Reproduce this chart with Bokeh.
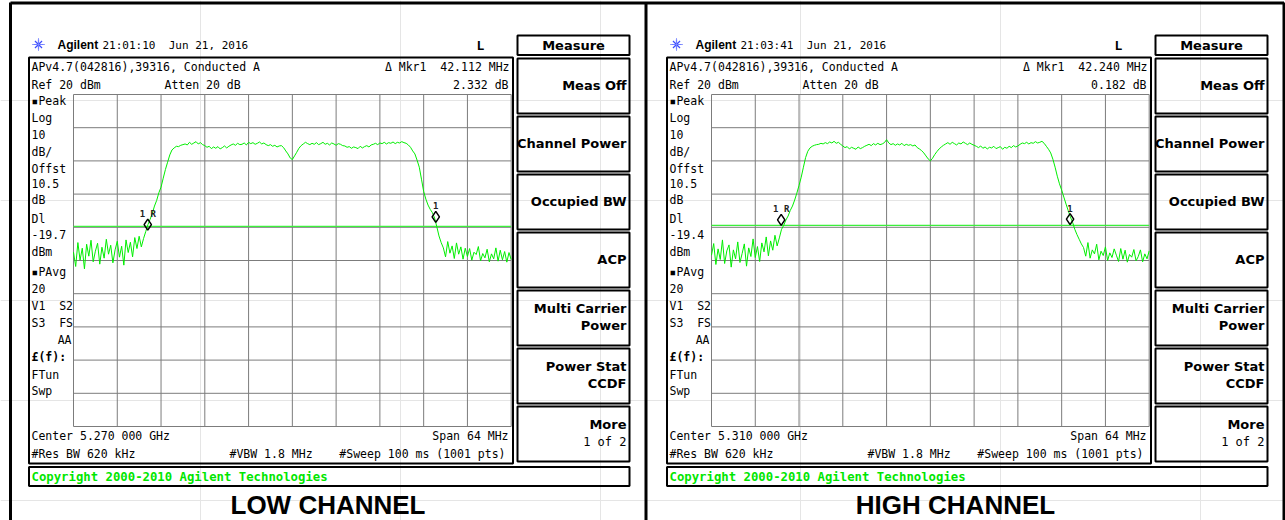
import numpy as np
from bokeh.plotting import figure
from bokeh.models import Range1d
from bokeh.core.properties import value
from bokeh.embed import file_html
from bokeh.resources import INLINE

# ---------------------------------------------------------------- data
channel_titles = ["LOW CHANNEL", "HIGH CHANNEL"]
sweep_times = ["21:01:10", "21:03:41"]
sweep_date = "Jun 21, 2016"
center_ghz = [5.270, 5.310]
span_mhz = 64
n_div = 10
ref_dbm = 20
db_per_div = 10
atten_db = 20
offset_db = 10.5
display_line_dbm = [-19.7, -19.4]
res_bw_khz = 620
vbw_mhz = 1.8
sweep_ms = 100
sweep_pts = 1001
pavg_count = 20

# reference marker (1R) and delta marker (1)
ref_marker_mhz = [5248.86, 5288.19]
ref_marker_dbm = [-19.2, -17.74]
delta_mhz = [42.112, 42.240]
delta_db = [2.332, 0.182]

# trace samples, one every 0.32 MHz across the 64 MHz span (201 points)
trace_step_mhz = 0.32
low_trace_dbm = [
    -27.5, -31.8, -24.6, -29.9, -26.3, -32.5, -25.1, -28.7, -23.9, -30.4,
    -27.2, -24.8, -31.1, -26.0, -29.3, -23.6, -28.1, -25.4, -30.7, -26.8,
    -24.2, -29.0, -25.7, -31.4, -23.8, -27.6, -24.5, -28.9, -23.1, -26.4, -22.7, -25.9,
    -23.4, -21.3, -19.2, -17.6, -15.8, -13.6, -11.9, -9.6, -7.9, -5.2, -2.6, -0.4,
    1.8, 3.3, 3.9, 4.4, 4.3, 4.7, 4.9, 5.1, 4.8, 5.6, 5.0, 5.4, 5.8, 5.1, 5.5, 4.9,
    4.6, 4.1, 4.4, 3.7, 4.2, 3.8, 4.3, 3.6, 4.0, 4.5, 3.9, 4.4,
    4.8, 5.1, 4.7, 5.3, 4.9, 5.0, 5.4, 4.8, 5.6, 5.2, 5.5, 5.0, 5.3, 5.7, 5.1, 5.4, 4.9,
    4.6, 4.9, 4.4, 4.7, 4.2, 4.5, 4.6, 4.0,
    3.0, 2.1, 0.9, 0.4, 1.5, 2.6, 3.8,
    4.6, 5.1, 5.6, 5.2, 4.9, 5.3, 5.0, 5.5, 4.9, 5.2, 5.6, 5.0, 5.3, 4.8, 5.4, 5.1, 4.7, 5.2, 5.0, 4.6,
    4.5, 4.1, 4.3, 3.8, 4.2, 4.0, 3.7, 4.4, 3.9, 4.3, 4.6, 4.2, 4.8,
    5.0, 5.3, 4.9, 5.4, 5.2, 5.6, 5.1, 5.5, 5.3, 5.7, 5.2, 5.6, 5.4, 5.8, 5.5, 5.3,
    4.8, 4.1, 3.0, 2.1, 0.2, -1.9, -5.5, -9.2, -11.5, -13.3, -14.6, -15.6, -17.2, -19.8, -22.6, -24.6,
    -26.2, -28.9, -24.3, -27.8, -25.6, -29.4, -24.7, -28.1, -25.9, -29.6, -26.3, -28.8,
    -26.4, -29.9, -27.5, -28.2, -25.8, -30.1, -27.9, -29.2, -26.6, -30.4, -28.0, -29.5,
    -26.2, -30.2, -26.9, -29.8, -27.3, -30.5, -27.6, -29.7,
]
high_trace_dbm = [
    -28.4, -24.9, -31.2, -26.5, -29.7, -23.8, -30.9, -27.1, -25.3, -32.0,
    -26.8, -29.5, -24.4, -30.6, -27.9, -25.0, -31.7, -26.2, -28.8, -23.5,
    -29.1, -25.8, -30.3, -24.7, -27.4, -22.9, -28.6, -24.1, -26.9, -22.4, -25.6, -23.2,
    -20.6, -19.4, -17.8, -16.6, -14.9, -13.6, -11.8, -9.7, -7.4, -4.9, -1.9, 1.0,
    2.9, 3.9, 4.4, 4.7, 4.9, 5.0, 5.3, 5.1, 5.5, 5.2, 5.7, 5.4, 5.9, 5.3, 5.6, 5.0,
    4.5, 4.0, 4.3, 3.6, 4.1, 3.8, 3.5, 4.2, 3.7, 4.0, 4.4,
    4.7, 5.0, 4.6, 5.2, 4.8, 5.3, 4.9, 5.1, 5.5, 6.4,
    5.4, 4.9, 5.2, 4.7, 5.1, 4.8, 5.3, 4.6, 5.0, 4.7, 4.9, 4.5, 4.8,
    4.0, 3.6, 3.1, 2.4, 1.5,
    0.6, 0.0, 0.8,
    1.9, 2.8, 3.6, 4.2, 4.7, 5.1,
    5.5, 5.0, 5.6, 5.2, 4.8, 5.4, 5.1, 5.7, 5.3, 4.9, 5.4, 5.0, 4.7,
    4.4, 4.0, 4.5, 3.8, 4.2, 3.6, 4.1, 3.9, 4.4, 3.7, 4.0, 4.3, 3.5, 4.1, 3.8, 4.4, 4.0, 4.6, 4.2, 4.5,
    5.0, 5.4, 5.2, 5.6, 5.1, 5.5, 5.3, 5.8, 5.4, 5.6, 5.9, 5.3,
    4.4, 3.5, 2.4, 0.5, -1.9, -4.6, -6.9, -8.8, -10.9, -13.0, -15.0, -16.9, -18.5, -20.6, -22.2, -23.6, -25.0,
    -26.1, -28.7, -24.6, -29.3, -26.8, -28.0, -25.1, -29.8, -27.2, -28.5, -25.9, -30.0,
    -27.7, -29.1, -26.5, -28.4, -30.3, -26.4, -29.6, -26.9, -30.5, -28.2, -29.0, -26.7,
    -30.1, -28.8, -26.8, -30.4, -28.0, -29.5, -27.1,
]
traces = [low_trace_dbm, high_trace_dbm]
assert len(low_trace_dbm) == 201 and len(high_trace_dbm) == 201

softkey_title = "Measure"
softkeys = [["Meas Off"], ["Channel Power"], ["Occupied BW"], ["ACP"],
            ["Multi Carrier", "Power"], ["Power Stat", "CCDF"], ["More", "1 of 2"]]
copyright_text = "Copyright 2000-2010 Agilent Technologies"
source_line = "APv4.7(042816),39316, Conducted A"

# ---------------------------------------------------------------- layout
W, H = 1285, 520
MONO = "DejaVu Sans Mono"
SANS = "Liberation Sans"
KEYFONT = "DejaVu Sans"
NB = "\u00a0"  # keeps runs of spaces intact in SVG text
GRID_L, GRID_R, GRID_T, GRID_B = 73.0, 510.7, 94.0, 426.0
PANEL_DX = [0, 638]
TRACE_GREEN = "#00ee00"
DL_GREEN = "#3cf03c"
GRID_GRAY = "#7c7c7c"

p = figure(width=W, height=H, x_range=Range1d(0, W), y_range=Range1d(H, 0),
           output_backend="svg", toolbar_location=None,
           x_axis_location=None, y_axis_location=None,
           min_border=0, min_border_left=0, min_border_right=0,
           min_border_top=0, min_border_bottom=0,
           outline_line_color=None, background_fill_color="white",
           border_fill_color="white")

mhz_per_px = span_mhz / (GRID_R - GRID_L)
db_per_px = n_div * db_per_div / (GRID_B - GRID_T)
xr_map = {}
for k in range(2):
    f_start = center_ghz[k] * 1000 - span_mhz / 2
    left_px = GRID_L + PANEL_DX[k]
    xr_map[f"freq{k}"] = Range1d(f_start - left_px * mhz_per_px,
                                 f_start + (W - left_px) * mhz_per_px)
p.extra_x_ranges = xr_map
p.extra_y_ranges = {"amp": Range1d(ref_dbm - (H - GRID_T) * db_per_px,
                                   ref_dbm + GRID_T * db_per_px)}


def txt(x, y, s, size=11.5, align="left", bold=False, color="black", font=MONO):
    p.text(x=[x], y=[y], text=[s.replace(" ", NB)], text_font=value(font),
           text_font_size=f"{size}px", text_align=align, text_baseline="middle",
           text_color=color, text_font_style="bold" if bold else "normal")


def box(l, r, t, b, lw=2, color="black"):
    p.quad(left=[l], right=[r], top=[t], bottom=[b], fill_color=None,
           line_color=color, line_width=lw)


# outer frames of the two captures
p.segment(x0=[10, 645.5, 1283.5, 10], x1=[10, 645.5, 1283.5, 1283.5],
          y0=[2, 2, 2, 2.5], y1=[H, H, H, 2.5], line_color="black", line_width=3)

left_labels = ["\u25aaPeak", "Log", f"{db_per_div}", "dB/", "Offst", f"{offset_db}", "dB", "Dl",
               None, "dBm", "\u25aaPAvg", f"{pavg_count}", "V1  S2", "S3  FS", None,
               "\u00a3(f):", "FTun", "Swp"]
left_label_y = [100, 117, 134, 151, 168, 183, 199, 218, 234, 251, 271, 288, 305, 322,
                339, 356, 374, 390]

for k in range(2):
    dx = PANEL_DX[k]
    xr = f"freq{k}"
    f_start = center_ghz[k] * 1000 - span_mhz / 2

    # header
    p.scatter(x=[38 + dx], y=[44], marker="asterisk", size=10, line_color="#3b4cff", line_width=1.2)
    p.scatter(x=[38 + dx], y=[44], marker="cross", size=13, line_color="#7f8cff", line_width=0.8)
    txt(57 + dx, 44.5, "Agilent", size=12, bold=True, font=SANS)
    txt(102 + dx, 44.5, f"{sweep_times[k]}  {sweep_date}", size=11)
    txt(480 + dx, 44.5, "L", size=13, bold=True, align="center")

    # screen box
    box(28.5 + dx, 512.5 + dx, 57, 463)
    txt(31 + dx, 66, source_line)
    txt(31 + dx, 84, f"Ref {ref_dbm} dBm")
    txt(164 + dx, 84, f"Atten {atten_db} dB")
    txt(509 + dx, 66, f"\u0394 Mkr1  {delta_mhz[k]:.3f} MHz", align="right")
    txt(508 + dx, 84, f"{delta_db[k]:.3f} dB", align="right")

    for s, y in zip(left_labels, left_label_y):
        if s is not None:
            txt(31 + dx, y, s, bold=s.startswith("\u00a3"))
    txt(31 + dx, 234, f"{display_line_dbm[k]}")
    txt(71 + dx, 339, "AA", align="right")

    txt(31 + dx, 435, f"Center {center_ghz[k]:.3f} 000 GHz")
    txt(508 + dx, 435, f"Span {span_mhz} MHz", align="right")
    txt(31 + dx, 453, f"#Res BW {res_bw_khz} kHz")
    txt(229 + dx, 453, f"#VBW {vbw_mhz} MHz")
    txt(505 + dx, 453, f"#Sweep {sweep_ms} ms ({sweep_pts} pts)", align="right")

    # graticule
    fx = [f_start + i * span_mhz / n_div for i in range(n_div + 1)]
    ay = [ref_dbm - i * db_per_div for i in range(n_div + 1)]
    bottom_db = ref_dbm - n_div * db_per_div
    p.segment(x0=fx, x1=fx, y0=[bottom_db] * len(fx), y1=[ref_dbm] * len(fx),
              x_range_name=xr, y_range_name="amp", line_color=GRID_GRAY, line_width=1)
    p.segment(x0=[f_start] * len(ay), x1=[f_start + span_mhz] * len(ay), y0=ay, y1=ay,
              x_range_name=xr, y_range_name="amp", line_color=GRID_GRAY, line_width=1)

    # display line
    p.segment(x0=[f_start], x1=[f_start + span_mhz], y0=[display_line_dbm[k]],
              y1=[display_line_dbm[k]], x_range_name=xr, y_range_name="amp",
              line_color=DL_GREEN, line_width=1.2)

    # trace
    freqs = f_start + trace_step_mhz * np.arange(len(traces[k]))
    p.line(x=freqs, y=traces[k], x_range_name=xr, y_range_name="amp",
           line_color=TRACE_GREEN, line_width=1)

    # markers
    mk_x = [ref_marker_mhz[k], ref_marker_mhz[k] + delta_mhz[k]]
    mk_y = [ref_marker_dbm[k], ref_marker_dbm[k] + delta_db[k]]
    p.scatter(x=mk_x, y=mk_y, marker="diamond", size=11, x_range_name=xr, y_range_name="amp",
              fill_alpha=0, line_color="black", line_width=1.5)
    p.text(x=mk_x, y=mk_y, text=["1" + NB + "R", "1"], x_range_name=xr, y_range_name="amp",
           text_font=value(MONO), text_font_size="9px", text_font_style="bold",
           text_align="center", text_baseline="middle", y_offset=-11, text_color="#222222")

    # softkeys
    box(517 + dx, 629 + dx, 35, 54.5)
    txt(573 + dx, 45, softkey_title, size=13, bold=True, align="center", font=KEYFONT)
    for j, lines in enumerate(softkeys):
        top = 58 + j * 58
        box(517 + dx, 629 + dx, top, top + 55)
        if len(lines) == 1:
            txt(626 + dx, top + 27, lines[0], size=13, bold=True, align="right", font=KEYFONT)
        elif lines[0] == "More":
            txt(626 + dx, top + 18, lines[0], size=13, bold=True, align="right", font=KEYFONT)
            txt(626 + dx, top + 35, lines[1], size=12, align="right")
        else:
            txt(626 + dx, top + 18, lines[0], size=13, bold=True, align="right", font=KEYFONT)
            txt(626 + dx, top + 35, lines[1], size=13, bold=True, align="right", font=KEYFONT)

    # copyright bar
    box(28.5 + dx, 629 + dx, 466.5, 485.5)
    txt(31 + dx, 476.5, copyright_text, size=12.3, bold=True, color="#00e600")

# captions
txt(327.5, 504, channel_titles[0], size=26, bold=True, align="center", font=SANS)
txt(955, 504, channel_titles[1], size=26, bold=True, align="center", font=SANS)

open("out.html", "w").write(file_html(p, INLINE))
